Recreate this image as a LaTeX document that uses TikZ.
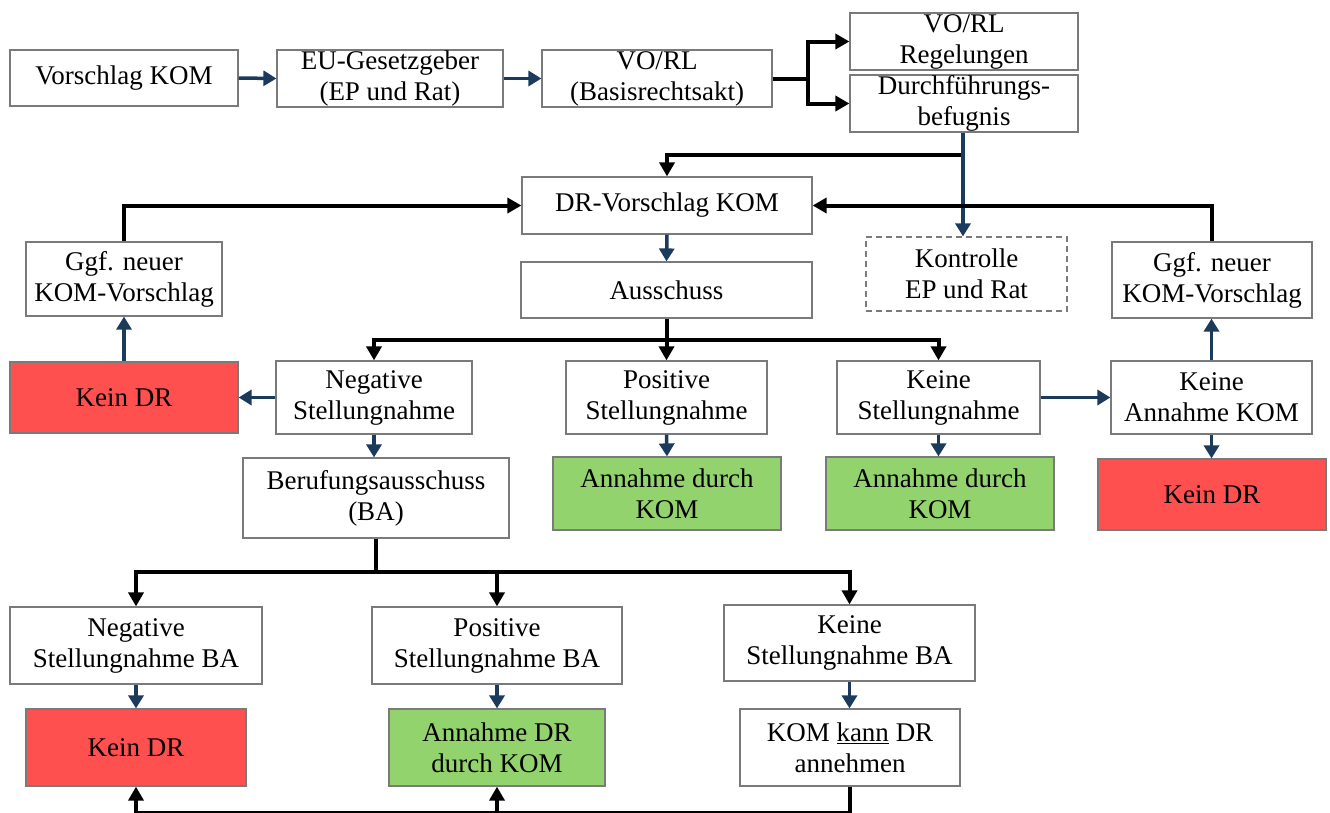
\documentclass[tikz,border=0pt]{standalone}
\usepackage{fontspec}
\setmainfont{Liberation Serif}
\usetikzlibrary{arrows.meta}
\definecolor{navyc}{HTML}{1B3A5C}
\definecolor{redc}{HTML}{FF5050}
\definecolor{greenc}{HTML}{92D36E}
\definecolor{edgec}{HTML}{7A7A7A}
\tikzset{
  box/.style={draw=edgec, line width=1.2pt, fill=white, inner sep=0pt, align=center,
    font=\fontsize{27}{31}\selectfont, text=black},
  redbox/.style={box, fill=redc},
  greenbox/.style={box, fill=greenc},
  dashbox/.style={box, dash pattern=on 6pt off 4pt},
  blk/.style={line width=4pt, black, -{Triangle[length=14pt,width=15pt]}},
  blkline/.style={line width=4pt, black},
  nav/.style={line width=3.5pt, navyc, -{Triangle[length=13pt,width=15pt]}},
}
\begin{document}
\begin{tikzpicture}[x=1pt,y=-1pt]
\useasboundingbox[fill=white] (0,0) rectangle (1330,812);
% row 1
\node[box, minimum width=228pt, minimum height=56pt] (vk) at (124,78) {Vorschlag KOM};
\node[box, minimum width=226pt, minimum height=57pt] (eu) at (390,78.5) {EU-Gesetzgeber\\(EP und Rat)};
\node[box, minimum width=230pt, minimum height=57pt] (vo) at (657,78.5) {VO/RL\\(Basisrechtsakt)};
\node[box, minimum width=228pt, minimum height=57pt] (reg) at (964,41.5) {VO/RL\\Regelungen};
\node[box, minimum width=228pt, minimum height=57pt] (df) at (964,103.5) {Durchführungs-\\befugnis};
% row 2
\node[box, minimum width=290pt, minimum height=57pt] (drv) at (667,205.5) {DR-Vorschlag KOM};
\node[dashbox, minimum width=201pt, minimum height=74pt] (ktr) at (966.5,274) {Kontrolle\\EP und Rat};
\node[box, minimum width=291pt, minimum height=56pt] (aus) at (666.5,290) {Ausschuss};
\node[box, minimum width=196pt, minimum height=74pt] (ggfL) at (124,279) {Ggf. neuer\\KOM-Vorschlag};
\node[box, minimum width=200pt, minimum height=76pt] (ggfR) at (1212,280) {Ggf. neuer\\KOM-Vorschlag};
% row 3
\node[redbox, minimum width=228pt, minimum height=71pt] (kdrL) at (124,397.5) {Kein DR};
\node[box, minimum width=196pt, minimum height=73pt] (neg) at (374,397.5) {Negative\\Stellungnahme};
\node[box, minimum width=201pt, minimum height=73pt] (pos) at (666.5,397.5) {Positive\\Stellungnahme};
\node[box, minimum width=203pt, minimum height=73pt] (kei) at (938.5,397.5) {Keine\\Stellungnahme};
\node[box, minimum width=201pt, minimum height=73pt] (kak) at (1211.5,397.5) {Keine\\Annahme KOM};
% row 4
\node[box, minimum width=266pt, minimum height=80pt] (ba) at (376,498) {Berufungsausschuss\\(BA)};
\node[greenbox, minimum width=228pt, minimum height=73pt] (anm1) at (667,493.5) {Annahme durch\\KOM};
\node[greenbox, minimum width=228pt, minimum height=73pt] (anm2) at (940,493.5) {Annahme durch\\KOM};
\node[redbox, minimum width=228pt, minimum height=71pt] (kdrR) at (1212,494.5) {Kein DR};
% row 5
\node[box, minimum width=252pt, minimum height=77pt] (negba) at (136,645.5) {Negative\\Stellungnahme BA};
\node[box, minimum width=250pt, minimum height=77pt] (posba) at (497,645.5) {Positive\\Stellungnahme BA};
\node[box, minimum width=251pt, minimum height=76pt] (keiba) at (849.5,643) {Keine\\Stellungnahme BA};
% row 6
\node[redbox, minimum width=220pt, minimum height=77pt] (kdrB) at (136,747.5) {Kein DR};
\node[greenbox, minimum width=216pt, minimum height=77pt] (andr) at (497,747.5) {Annahme DR\\durch KOM};
\node[box, minimum width=220pt, minimum height=77pt] (kann) at (850,747.5) {KOM \underline{kann} DR\\annehmen};
% junction coordinates
\coordinate (j1) at (808,78.5);
\coordinate (c1) at (963,155);
\coordinate (c2) at (666.5,340);
\coordinate (c3) at (376,572);
\coordinate (c4) at (850,813);
% connectors row 1
\draw[nav] (vk.east) -- (eu.west);
\draw[nav] (eu.east) -- (vo.west);
\draw[blkline] (vo.east) -- (j1);
\draw[blk] (j1) |- (reg.west);
\draw[blk] (j1) |- (df.west);
\draw[blk] (c1) -| (drv.north);
\draw[nav] (df.south -| c1) -- (ktr.north -| c1);
% feedback loops
\draw[blk] (ggfL.north) |- (drv.west);
\draw[blk] (ggfR.north) |- (drv.east);
\draw[nav] (drv.south) -- (aus.north);
% Ausschuss branches
\draw[blkline] (aus.south) -- (c2);
\draw[blk] (c2) -| (neg.north);
\draw[blk] (c2) -| (pos.north);
\draw[blk] (c2) -| (kei.north);
\draw[nav] (neg.west) -- (kdrL.east);
\draw[nav] (kdrL.north) -- (ggfL.south);
\draw[nav] (neg.south) -- (neg.south |- ba.north);
\draw[nav] (pos.south) -- (anm1.north);
\draw[nav] (kei.south) -- (kei.south |- anm2.north);
\draw[nav] (kei.east) -- (kak.west);
\draw[nav] (kak.north) -- (kak.north |- ggfR.south);
\draw[nav] (kak.south) -- (kak.south |- kdrR.north);
% BA branches
\draw[blkline] (ba.south) -- (c3);
\draw[blk] (c3) -| (negba.north);
\draw[blk] (c3) -| (posba.north);
\draw[blk] (c3) -| (keiba.north);
\draw[nav] (negba.south) -- (kdrB.north);
\draw[nav] (posba.south) -- (andr.north);
\draw[nav] (keiba.south) -- (keiba.south |- kann.north);
% bottom loop
\draw[blk] (kann.south) -- (c4) -| (kdrB.south);
\draw[blk] (andr.south |- c4) -- (andr.south);
\end{tikzpicture}
\end{document}
